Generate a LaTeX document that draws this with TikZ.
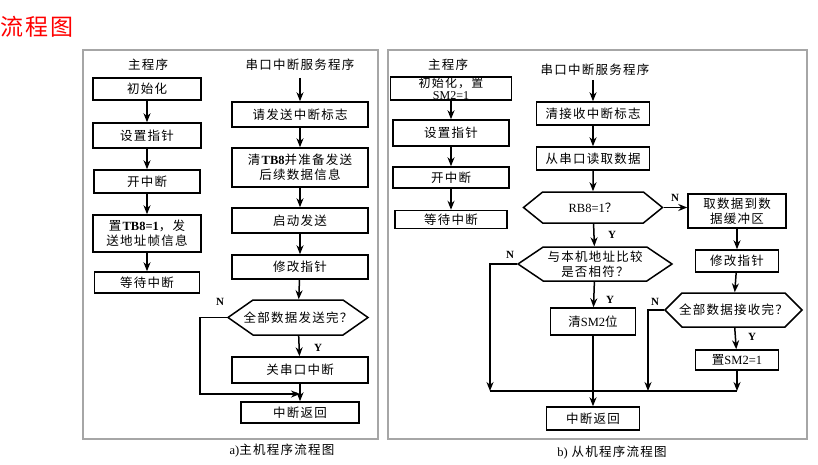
\documentclass[tikz,border=0pt]{standalone}
\usepackage{fontspec}
\setmainfont{Liberation Serif}
\newfontfamily\cjk[LetterSpace=10]{Noto Sans CJK SC}
\usetikzlibrary{arrows.meta,shapes.symbols}
\newcommand{\lat}[1]{{\rmfamily #1}}
\tikzstyle{box}=[draw,line width=1.5pt,inner sep=1pt,align=center,font=\cjk\fontsize{12.5}{15}\selectfont]
\tikzstyle{decision}=[box,signal,signal to=west and east]
\tikzstyle{line}=[draw,line width=1.5pt,-{Stealth[length=9pt,width=7pt]}]
\tikzstyle{plain line}=[draw,line width=1.5pt]
\tikzstyle{panel}=[draw=black!35,line width=1.2pt]
\tikzstyle{yn}=[font=\rmfamily\bfseries\fontsize{11}{13}\selectfont]
\tikzstyle{heading}=[font=\cjk\fontsize{12.5}{15}\selectfont]

\begin{document}
\begin{tikzpicture}[x=1pt,y=-1pt]
    \useasboundingbox (0,0) rectangle (818,465);
    \node[text=red,font=\cjk\fontsize{23}{26}\selectfont] (title) at (37,27) {流程图};
    % Two panels
    \path[panel] (83,50) rectangle (378,439);
    \path[panel] (388,50) rectangle (807,439);
    \foreach \pos/\name/\txt in {{(148,65)/lhead1/主程序}, {(300,65)/lhead2/串口中断服务程序},
        {(448,65)/rhead1/主程序}, {(595,70)/rhead2/串口中断服务程序},
        {(282,451)/lcap/\lat{a)}主机程序流程图}, {(612,453)/rcap/\lat{b)} 从机程序流程图}}
        \node[heading] (\name) at \pos {\txt};

    % a) master: boxes of both columns
    \foreach \pos/\name/\w/\h/\txt in {{(147,89)/lm1/108/22/初始化}, {(147,135.5)/lm2/108/25/设置指针},
        {(147,181.5)/lm3/106/23/开中断}, {(147,233.5)/lm4/108/37/{置\lat{\textbf{TB8=1}}，发\\送地址帧信息}},
        {(147,282.5)/lm5/105/21/等待中断},
        {(300,114.5)/li1/136/25/请发送中断标志}, {(300,167.5)/li2/136/39/{清\lat{\textbf{TB8}}并准备发送\\后续数据信息}},
        {(300,220.5)/li3/136/25/启动发送}, {(300,267)/li4/136/24/修改指针},
        {(300,370)/li5/136/26/关串口中断}, {(300,412.5)/li6/118/21/中断返回}}
        \node[box,minimum width=\w pt,minimum height=\h pt] (\name) at \pos {\txt};
    \node[decision,minimum width=140pt,minimum height=35pt,inner xsep=-10pt,signal pointer angle=70] (ld) at (298,317.5) {全部数据发送完？};

    % b) slave: boxes of both columns
    \foreach \pos/\name/\w/\h/\txt in {{(451,133)/rm2/116/26/设置指针},
        {(451,177.5)/rm3/116/21/开中断}, {(451,219.5)/rm4/112/18/等待中断},
        {(593,113.5)/ri1/113/23/清接收中断标志}, {(593,158.5)/ri2/113/23/从串口读取数据},
        {(593,321.5)/ri3/85/27/{清\lat{SM2}位}}, {(593,418.5)/ri4/93/23/中断返回},
        {(737,211)/rb1/98/34/{取数据到数\\据缓冲区}}, {(737,261)/rb2/83/22/修改指针},
        {(737,360)/rb3/83/20/{置\lat{SM2=1}}}}
        \node[box,minimum width=\w pt,minimum height=\h pt] (\name) at \pos {\txt};
    \node[box,minimum width=121pt,minimum height=23pt,inner sep=0pt,font=\cjk\fontsize{12}{11.5}\selectfont] (rm1) at (451,88.5) {初始化，置\\\lat{SM2=1}};
    \node[decision,minimum width=139pt,minimum height=31pt,signal pointer angle=78] (rd1) at (593,207.5) {\lat{RB8=1}？};
    \node[decision,minimum width=154pt,minimum height=34pt,signal pointer angle=68] (rd2) at (595,264) {与本机地址比较\\是否相符？};
    \node[decision,minimum width=137pt,minimum height=34pt,inner xsep=-4pt,signal pointer angle=90] (rd3) at (733.5,310) {全部数据接收完？};

    % free ends of the connectors
    \coordinate (lstart) at (300,78);
    \coordinate (lcorner) at (200,394);
    \coordinate (rstart) at (593,80);
    \coordinate (rleft) at (490,391);
    \coordinate (rmid) at (648,391);
    \coordinate (rright) at (737,391);

    % Connect boxes with arrows
    \foreach \source/\dest in {lm1/lm2, lm2/lm3, lm3/lm4, lm4/lm5, lstart/li1, li1/li2, li2/li3, li3/li4,
        li4/ld, ld/li5, li5/li6, rm1/rm2, rm2/rm3, rm3/rm4, rstart/ri1, ri1/ri2, ri2/rd1, rd1/rd2, rd2/ri3,
        ri3/ri4, rb1/rb2, rb2/rd3, rd3/rb3, rb3/rright}
        \path[line] (\source) -- (\dest);
    \path[line] (ld.west) -| (lcorner) -- (lcorner -| li5);
    \path[line] (rd1.east) -- (rd1.east -| rb1.west);
    \path[line] (rd2.west) -| (rleft);
    \path[line] (rd3.west) -| (rmid);
    \path[plain line] (rleft) -- (rright);

    % Y / N marks
    \foreach \pos/\name/\txt in {{(220,302)/ln1/N}, {(318,348)/ly1/Y}, {(675,198)/rn1/N}, {(612,235)/ry1/Y},
        {(510,255)/rn2/N}, {(610,300)/ry2/Y}, {(655,302)/rn3/N}, {(752,337)/ry3/Y}}
        \node[yn] (\name) at \pos {\txt};
\end{tikzpicture}
\end{document}
